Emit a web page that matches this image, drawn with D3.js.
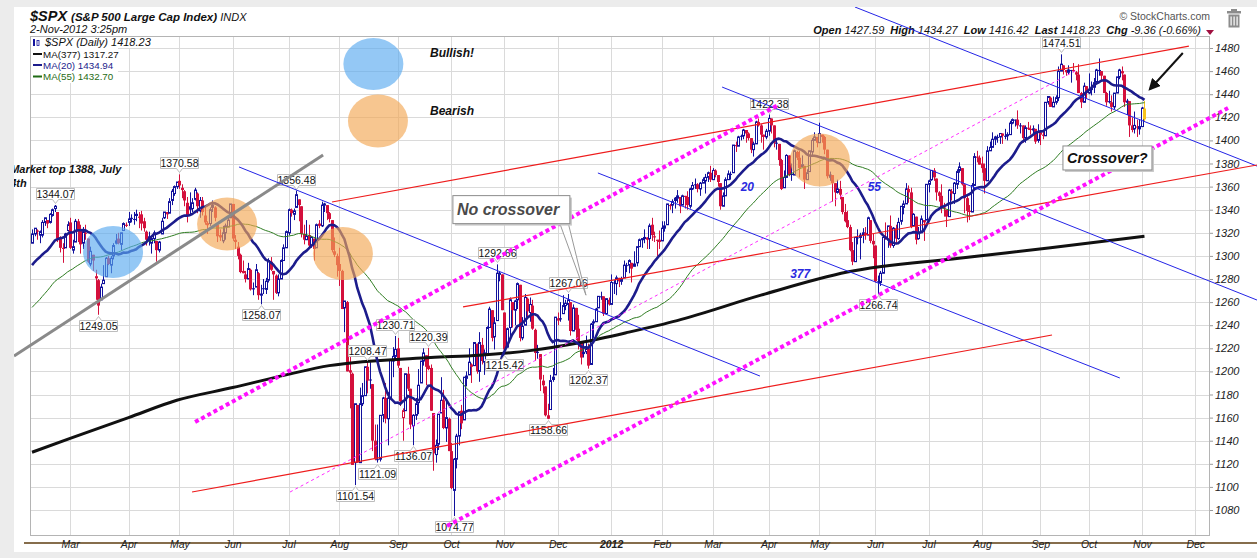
<!DOCTYPE html>
<html>
<head>
<meta charset="utf-8">
<script src="https://cdn.jsdelivr.net/npm/d3@7"></script>
<style>
html, body { margin: 0; padding: 0; background: #ececec; }
svg { display: block; font-family: "Liberation Sans", Arial, sans-serif; }
</style>
</head>
<body>
<script>
var W = 1257, H = 558;

// daily bars, 7-Feb-2011 .. 2-Nov-2012, one line per month
var opens = [
  1311,1319,1322,1318,1318,1329,1331,1329,1335,1341,1338,1315,1307,1307,1322,
  1329,1305,1312,1330,1323,1311,1320,1315,1293,1301,1281,1279,1262,1276,1282,1298,1292,1300,1311,1315,1310,1322,1327,
  1329,1333,1332,1335,1334,1336,1330,1321,1317,1311,1315,1313,1305,1319,1333,1338,1337,1348,1354,1360,
  1365,1359,1356,1346,1343,1341,1349,1354,1339,1348,1335,1327,1328,1342,1342,1327,1318,1313,1320,1325,1333,
  1345,1314,1308,1301,1287,1284,1280,1288,1272,1273,1285,1266,1272,1271,1279,1295,1287,1283,1268,1280,1296,1307,
  1320,1340,1336,1342,1349,1343,1319,1314,1318,1309,1315,1307,1328,1326,1344,1344,1337,1331,1304,1300,
  1293,1287,1255,1260,1201,1198,1121,1171,1121,1172,1179,1204,1193,1189,1140,1124,1124,1162,1177,1159,1177,1209,1213,
  1220,1203,1160,1166,1198,1185,1153,1162,1173,1190,1209,1214,1205,1203,1164,1128,1137,1164,1175,1151,1159,
  1131,1097,1124,1144,1166,1158,1194,1197,1206,1205,1224,1200,1223,1208,1215,1238,1253,1230,1244,1284,1284,
  1251,1221,1238,1260,1253,1262,1275,1229,1240,1263,1251,1257,1236,1217,1215,1192,1187,1162,1167,1193,1197,
  1246,1246,1250,1257,1258,1260,1235,1255,1237,1225,1217,1217,1220,1206,1242,1243,1255,1265,1265,1250,1262,
  1258,1277,1276,1281,1278,1281,1292,1292,1294,1291,1294,1308,1314,1315,1316,1315,1327,1317,1314,1314,
  1313,1324,1327,1344,1344,1348,1350,1351,1344,1352,1351,1343,1358,1362,1362,1358,1363,1365,1368,1372,
  1366,1374,1370,1363,1343,1352,1366,1371,1372,1396,1395,1404,1404,1409,1406,1402,1392,1397,1416,1413,1405,1403,
  1408,1419,1413,1398,1397,1383,1359,1368,1387,1371,1370,1390,1385,1377,1378,1366,1373,1390,1400,1403,
  1398,1405,1403,1392,1368,1370,1363,1355,1358,1351,1338,1331,1325,1305,1295,1316,1316,1318,1320,1318,1331,1313,
  1309,1278,1277,1285,1317,1314,1326,1309,1324,1315,1330,1342,1345,1358,1355,1326,1334,1315,1320,1331,1331,
  1362,1366,1374,1367,1355,1352,1342,1340,1334,1356,1354,1362,1374,1376,1362,1350,1339,1338,1361,1386,1385,
  1380,1376,1365,1391,1394,1401,1403,1403,1406,1404,1404,1405,1415,1418,1418,1413,1413,1402,1411,1410,1409,1410,1400,
  1407,1405,1404,1433,1437,1429,1433,1437,1460,1465,1461,1459,1461,1461,1459,1457,1441,1433,1447,
  1441,1444,1446,1451,1461,1460,1456,1441,1434,1433,1429,1441,1455,1460,1457,1433,1434,1413,1410,1412,1410,
  1412,1427.59
];
var highs = [
  1323,1324,1323,1322,1331,1333,1331,1337,1341,1344.07,1338,1317,1311,1320,1330,
  1333,1314,1332,1332,1327,1325,1327,1315,1308,1301,1288,1280,1276,1292,1299,1300,1300,1311,1319,1320,1320,1329,1329,
  1338,1336,1338,1340,1338,1339,1333,1322,1321,1316,1322,1313,1313,1333,1338,1338,1350,1358,1361,1364,
  1370.58,1362,1357,1351,1355,1350,1359,1355,1351,1351,1343,1330,1342,1348,1343,1328,1323,1326,1328,1334,1345,
  1345,1318,1312,1302,1296,1287,1294,1289,1277,1293,1286,1275,1280,1281,1298,1299,1287,1284,1284,1297,1310,1322,
  1341,1341,1341,1356.48,1349,1343,1327,1331,1327,1317,1315,1328,1331,1347,1346,1344,1338,1331,1316,1302,
  1307,1288,1261,1261,1218,1199,1172,1171,1186,1190,1204,1208.47,1208,1189,1154,1154,1162,1178,1190,1182,1210,1221,1230.71,
  1229,1203,1168,1198,1204,1185,1163,1177,1202,1209,1220,1214,1220.39,1206,1164,1141,1163,1195,1184,1175,1160,
  1138,1125,1146,1165,1171,1195,1200,1220,1207,1225,1224,1234,1229,1219,1239,1256,1253,1247,1292.66,1287,1284,
  1251,1238,1264,1260,1262,1277,1275,1247,1267,1264,1264,1262,1237,1223,1215,1197,1187,1172,1197,1203,1247,
  1251,1260,1266,1262,1267.06,1260,1258,1255,1249,1225,1225,1231,1224,1242,1245,1255,1265,1269,1265,1263,1264,
  1284,1279,1283,1281,1282,1296,1294,1297,1294,1304,1308,1315,1315,1323,1316,1328,1333,1321,1314,1322,
  1330,1330,1345,1345,1349,1351,1357,1351,1353,1352,1356,1359,1364,1367,1363,1364,1368,1371,1373,1378,
  1376,1375,1370,1363,1355,1368,1374,1373,1396,1399,1404,1405,1410,1409,1407,1402,1399,1417,1419,1414,1405,1410,
  1422.38,1419,1413,1401,1397,1384,1374,1388,1387,1380,1392,1391,1391,1387,1378,1375,1391,1402,1407,1403,
  1415.32,1405,1404,1392,1373,1370,1363,1366,1365,1351,1345,1339,1327,1312,1316,1323,1320,1324,1325,1334,1331,1319,
  1309,1283,1287,1316,1329,1326,1335,1325,1327,1333,1343,1348,1363,1361,1359,1337,1334,1325,1335,1331,1362,
  1366,1374,1376,1367,1356,1362,1346,1340,1358,1358,1364,1375,1381,1376,1362,1352,1344,1363,1389,1391,1387,
  1386,1380,1395,1399,1407,1404,1405,1406,1406,1410,1407,1417,1419,1418,1426,1415,1413,1413,1416,1413,1413,1410,1414,
  1409,1409,1433,1438,1438,1438,1439,1464,1474.51,1465,1461,1465,1461,1467,1460,1466,1442,1450,1447,
  1458,1451,1454,1462,1470.96,1460,1456,1442,1443,1439,1441,1455,1462,1464,1457,1436,1434,1420,1425,1418,1418,
  1429,1434.27
];
var lows = [
  1311,1317,1314,1311,1316,1326,1324,1328,1334,1338,1312,1303,1294,1307,1321,
  1306,1302,1312,1312,1302,1306,1314,1294,1291,1287,1262,1249.05,1262,1276,1282,1292,1285,1297,1310,1310,1305,1322,1325,
  1326,1329,1327,1330,1324,1322,1321,1309,1309,1302,1311,1295,1303,1319,1332,1332,1337,1344,1352,1358,
  1358,1350,1343,1329,1336,1338,1348,1337,1333,1335,1327,1319,1326,1338,1330,1312,1313,1311,1314,1325,1333,
  1313,1306,1297,1285,1285,1277,1280,1270,1266,1273,1262,1258.07,1267,1267,1277,1287,1262,1267,1265,1280,1296,1307,
  1318,1334,1331,1342,1330,1316,1310,1314,1306,1307,1296,1307,1324,1325,1338,1331,1329,1303,1299,1282,
  1274,1254,1234,1200,1168,1119,1101.54,1121,1121,1170,1179,1181,1185,1131,1123,1121.09,1122,1156,1155,1136,1177,1195,1209,
  1203,1170,1140,1166,1183,1150,1136.07,1158,1163,1190,1205,1188,1201,1166,1114,1121,1132,1164,1150,1139,1131,
  1098,1074.77,1116,1136,1150,1158,1187,1197,1190,1205,1198,1191,1206,1197,1215,1238,1226,1219,1244,1278,1253,
  1215.42,1221,1228,1238,1240,1254,1226,1227,1240,1246,1243,1236,1209,1211,1183,1181,1161,1158.66,1167,1191,1197,
  1240,1243,1250,1253,1244,1231,1235,1227,1219,1206,1212,1215,1202.37,1206,1229,1243,1255,1262,1248,1250,1257,
  1258,1267,1266,1273,1275,1281,1286,1285,1277,1291,1291,1308,1307,1311,1306,1306,1313,1312,1300,1306,
  1313,1321,1327,1340,1337,1341,1346,1337,1344,1341,1340,1341,1357,1358,1355,1352,1363,1354,1364,1364,
  1366,1368,1360,1340,1343,1352,1366,1366,1372,1390,1395,1400,1401,1398,1400,1389,1386,1397,1412,1398,1392,1401,
  1404,1406,1394,1392,1378,1357,1359,1368,1369,1365,1370,1383,1368,1377,1358,1366,1373,1387,1400,1394,
  1398,1398,1388,1367,1365,1347,1343,1354,1349,1336,1329,1324,1304,1292,1295,1310,1297,1311,1314,1318,1311,1298,
  1277,1266.74,1274,1285,1314,1307,1307,1307,1310,1314,1327,1336,1345,1346,1324,1326,1310,1314,1320,1313,1331,
  1355,1365,1365,1348,1347,1337,1334,1325,1334,1348,1345,1358,1372,1361,1337,1329,1331,1338,1361,1381,1379,
  1372,1354,1365,1391,1394,1396,1398,1397,1397,1401,1400,1405,1414,1412,1410,1406,1398,1398,1409,1405,1406,1397,1398,
  1396,1401,1404,1431,1429,1429,1431,1434,1460,1457,1456,1457,1450,1459,1452,1441,1428,1433,1436,
  1440,1439,1441,1450,1456,1452,1441,1430,1432,1425,1427,1441,1453,1452,1429,1422,1403,1407,1406,1403,1405,
  1412,1416.42
];
var closes = [
  1319,1324,1321,1321,1329,1333,1328,1336,1340,1343,1315,1307,1306,1319,1327,
  1307,1308,1330,1321,1310,1321,1320,1295,1304,1296,1282,1257,1273,1279,1298,1293,1298,1309,1313,1311,1320,1328,1326,
  1332,1332,1332,1336,1333,1328,1324,1314,1314,1315,1320,1305,1312,1330,1338,1336,1347,1356,1360,1364,
  1361,1357,1348,1335,1340,1346,1357,1343,1348,1338,1329,1328,1340,1344,1333,1317,1316,1320,1326,1331,1345,
  1315,1312,1300,1286,1285,1280,1289,1271,1271,1288,1266,1267,1272,1278,1296,1288,1284,1268,1280,1296,1307,1321,
  1340,1337,1339,1353,1344,1319,1314,1317,1309,1316,1306,1327,1326,1344,1345,1337,1332,1305,1301,1292,
  1287,1254,1261,1200,1199,1119,1172,1121,1172,1179,1204,1192,1193,1140,1124,1124,1162,1177,1159,1177,1210,1213,1219,
  1205,1174,1166,1198,1185,1154,1162,1172,1188,1209,1216,1204,1202,1166,1129,1136,1163,1175,1151,1160,1131,
  1099,1124,1144,1165,1155,1195,1196,1208,1204,1225,1200,1225,1209,1216,1238,1254,1229,1242,1285,1285,1253,
  1219,1237,1262,1253,1261,1276,1229,1239,1264,1252,1258,1237,1216,1216,1193,1188,1162,1159,1192,1195,1247,
  1244,1245,1257,1259,1262,1235,1255,1236,1226,1212,1215,1219,1205,1241,1243,1254,1265,1265,1250,1263,1258,
  1277,1277,1281,1278,1280,1292,1292,1296,1289,1293,1308,1314,1315,1316,1314,1326,1318,1316,1313,1312,
  1324,1326,1345,1344,1347,1350,1352,1343,1352,1351,1344,1358,1361,1362,1358,1363,1366,1368,1372,1366,
  1374,1370,1364,1343,1352,1366,1371,1371,1396,1395,1403,1404,1409,1406,1402,1392,1397,1416,1413,1405,1403,1408,
  1419,1413,1398,1398,1383,1358,1368,1387,1370,1370,1391,1385,1376,1379,1366,1372,1391,1400,1403,1398,
  1406,1403,1392,1369,1370,1363,1355,1358,1353,1338,1330,1325,1305,1295,1316,1316,1318,1320,1318,1333,1313,1310,
  1278,1278,1285,1316,1315,1326,1309,1324,1315,1329,1343,1345,1358,1355,1325,1336,1314,1320,1332,1329,1362,
  1365,1374,1368,1355,1352,1342,1341,1334,1357,1354,1363,1373,1377,1362,1350,1339,1338,1361,1386,1385,1379,
  1376,1365,1391,1394,1401,1403,1403,1406,1404,1404,1405,1415,1418,1418,1413,1413,1402,1411,1410,1409,1410,1399,1407,
  1405,1404,1433,1438,1429,1433,1437,1460,1466,1461,1459,1461,1461,1460,1457,1441,1433,1447,1441,
  1444,1445,1450,1461,1461,1456,1441,1433,1433,1429,1441,1455,1461,1458,1433,1434,1413,1409,1413,1412,1412,
  1428,1418.23
];

// 54 closes before the first bar (18-Nov-2010 .. 4-Feb-2011), only to seed the averages
var priorCloses = [
  1196,1199,1198,1181,1198,1189,1188,1181,
  1206,1221,1224,1223,1224,1229,1233,1240,1241,1243,1236,1243,1244,1247,1254,1258,1256,1257,1258,1259,1257,1258,
  1272,1270,1277,1274,1272,1270,1275,1286,1283,1293,1296,1282,1281,1283,1291,1292,1296,1300,1277,1286,
  1308,1304,1307,1311
];

// MA(377): bar index and value
var ma377Days = [0, 15, 38, 57, 79, 100, 117, 157, 176, 196, 216, 235, 254, 287, 321, 365, 401, 438];
var ma377Vals = [1130, 1142, 1160, 1175, 1186, 1197, 1205, 1212, 1214, 1218, 1225, 1234, 1244, 1266, 1286, 1298, 1307, 1317];

// month starts (bar index) and their labels
var monthIdx = [15, 38, 58, 79, 101, 121, 144, 165, 186, 207, 228, 248, 268, 290, 310, 332, 353, 374, 397, 416, 437, 458];
var monthLbl = ["Mar","Apr","May","Jun","Jul","Aug","Sep","Oct","Nov","Dec","2012","Feb","Mar","Apr","May","Jun","Jul","Aug","Sep","Oct","Nov","Dec"];
var yTicks = [1080,1100,1120,1140,1160,1180,1200,1220,1240,1260,1280,1300,1320,1340,1360,1380,1400,1420,1440,1460,1480];

// swing labels
var peakDays = [9, 26, 58, 90, 104, 127, 132, 136, 143, 150, 156, 166, 183, 186, 203, 211, 219, 290, 333, 405];
var peakVals = [1344.07,1249.05,1370.58,1258.07,1356.48,1101.54,1208.47,1121.09,1230.71,1136.07,1220.39,1074.77,1292.66,1215.42,1158.66,1267.06,1202.37,1422.38,1266.74,1474.51];
var peakSide = ["hi","lo","hi","lo","hi","lo","hi","lo","hi","lo","hi","lo","hi","lo","lo","hi","lo","hi","lo","hi"];

// hand drawn annotations, endpoints as [bar index, price]
var greyLine = [[-7.1, 1213.3], [114.6, 1387.4]];
var blueLines = [
  [[81.5, 1377], [286.6, 1196]],
  [[222.8, 1371.8], [428.3, 1194.3]],
  [[271.7, 1446.2], [482.3, 1261.8]],
  [[324, 1515.5], [482.3, 1377.8]]
];
var redLines = [
  [[118.1, 1346.7], [455.5, 1481.7]],
  [[169.7, 1255.8], [482.3, 1378.7]],
  [[63, 1095.6], [401.6, 1231.5]]
];
var dotLines = [
  [[64.2, 1156.2], [293.7, 1430.6]],
  [[163.4, 1066.2], [470.9, 1428]]
];
var dashLine = [[101.6, 1095.6], [411.4, 1461]];
var arrowLine = [[453.1, 1475.7], [440.2, 1444.5]];
var blueSpots = [[31.9, 1303.4], [134.4, 1466.1]];
var orangeSpots = [[76.8, 1327.6], [122.4, 1302.1], [310.2, 1383], [136.2, 1416.8]];

var BLUE = "#11119c", RED = "#d4103c";

var svg = d3.select("body").append("svg").attr("width", W).attr("height", H);
svg.append("rect").attr("width", W).attr("height", H).attr("fill", "#ececec");
svg.append("rect").attr("x", 14).attr("y", 7).attr("width", W - 14).attr("height", 545).attr("fill", "#fff");

var defs = svg.append("defs");
defs.append("clipPath").attr("id", "plotClip").append("rect")
  .attr("x", 30).attr("y", 36).attr("width", 1180).attr("height", 500);
defs.append("clipPath").attr("id", "panelClip").append("rect")
  .attr("x", 14).attr("y", 7).attr("width", W - 14).attr("height", 545);
defs.append("marker").attr("id", "arrow").attr("viewBox", "0 -5 10 10")
  .attr("refX", 8).attr("refY", 0).attr("markerWidth", 6).attr("markerHeight", 6)
  .attr("orient", "auto")
  .append("path").attr("d", "M0,-5L10,0L0,5Z").attr("fill", "#111");

var x = d3.scaleLinear().domain([-0.8, 463.8]).range([30, 1210]);
var y = d3.scaleLinear().domain([1057.5, 1490.4]).range([536, 36]);

// header
var head = svg.append("g").attr("fill", "#111");
var t1 = head.append("text").attr("x", 30).attr("y", 21);
t1.append("tspan").attr("font-size", 14.5).attr("font-weight", "bold").attr("font-style", "italic").text("$SPX ");
t1.append("tspan").attr("font-size", 11.5).attr("font-weight", "bold").attr("font-style", "italic").text("(S&P 500 Large Cap Index) ");
t1.append("tspan").attr("font-size", 11).attr("font-style", "italic").text("INDX");
head.append("text").attr("x", 30).attr("y", 33).attr("font-size", 11).attr("font-style", "italic").text("2-Nov-2012 3:25pm");
head.append("text").attr("x", 1210).attr("y", 20).attr("text-anchor", "end").attr("font-size", 10.5)
  .attr("fill", "#555").text("\u00a9 StockCharts.com");
var quote = head.append("text").attr("x", 1201).attr("y", 34).attr("text-anchor", "end").attr("font-size", 11).attr("font-style", "italic");
[["Open", "1427.59"], ["High", "1434.27"], ["Low", "1416.42"], ["Last", "1418.23"], ["Chg", "-9.36 (-0.66%)"]].forEach(function(p, k) {
  quote.append("tspan").attr("font-weight", "bold").text((k ? "\u00a0\u00a0" : "") + p[0] + " ");
  quote.append("tspan").text(p[1]);
});
head.append("path").attr("d", "M1206,30L1214,30L1210,35Z").attr("fill", "#a01040");
// trash can
var tr = svg.append("g").attr("fill", "#8c8c8c");
tr.append("rect").attr("x", 1227).attr("y", 11).attr("width", 14).attr("height", 2.5);
tr.append("rect").attr("x", 1231).attr("y", 9).attr("width", 6).attr("height", 2);
tr.append("rect").attr("x", 1228.5).attr("y", 14.5).attr("width", 11).attr("height", 13);
tr.selectAll(".slot").data([0, 1, 2]).enter().append("rect")
  .attr("x", function(d) { return 1230.5 + d * 3; }).attr("y", 16.5).attr("width", 1.2).attr("height", 9).attr("fill", "#fff");

// grid
var grid = svg.append("g").attr("stroke", "#dadada").attr("stroke-width", 1);
grid.selectAll(".gy").data(yTicks).enter().append("line")
  .attr("x1", 30).attr("x2", 1210)
  .attr("y1", function(d) { return Math.round(y(d)) + 0.5; })
  .attr("y2", function(d) { return Math.round(y(d)) + 0.5; });
grid.selectAll(".gx").data(monthIdx).enter().append("line")
  .attr("y1", 36).attr("y2", 536)
  .attr("x1", function(d) { return Math.round(x(d)) + 0.5; })
  .attr("x2", function(d) { return Math.round(x(d)) + 0.5; });
svg.append("rect").attr("x", 30.5).attr("y", 36.5).attr("width", 1179).attr("height", 499)
  .attr("fill", "none").attr("stroke", "#b4b4b4");

// y axis
var yAxis = svg.append("g").attr("transform", "translate(1210,0)")
  .call(d3.axisRight(y).tickValues(yTicks).tickSize(3).tickPadding(2).tickFormat(d3.format("d")));
yAxis.select(".domain").remove();
yAxis.selectAll("line").attr("stroke", "#999");
yAxis.selectAll("text").attr("font-family", "Liberation Sans, Arial, sans-serif")
  .attr("font-size", 11).attr("font-style", "italic").attr("fill", "#222");

// x axis
svg.append("line").attr("x1", 24).attr("x2", W).attr("y1", 543).attr("y2", 543)
  .attr("stroke", "#5e3c10").attr("stroke-width", 1.5);
var xAxis = svg.append("g").attr("transform", "translate(0,536)")
  .call(d3.axisBottom(x).tickValues(monthIdx).tickSize(0).tickPadding(5)
    .tickFormat(function(d, i) { return monthLbl[i]; }));
xAxis.select(".domain").remove();
xAxis.selectAll("text").attr("font-family", "Liberation Sans, Arial, sans-serif")
  .attr("font-size", 10.5).attr("font-style", "italic").attr("fill", "#222")
  .attr("font-weight", function(d, i) { return monthLbl[i] === "2012" ? "bold" : null; });

// candles
var days = closes.map(function(c, i) {
  return { i: i, o: opens[i], h: highs[i], l: lows[i], c: c,
           pc: i ? closes[i - 1] : priorCloses[priorCloses.length - 1] };
});
function col(d) {
  if (d.i === closes.length - 1) return "#f7c21e";
  return d.c >= d.pc ? BLUE : RED;
}
function px(i) { return Math.round(x(i)); }
var plot = svg.append("g").attr("clip-path", "url(#plotClip)");
plot.selectAll(".wick").data(days).enter().append("line")
  .attr("x1", function(d) { return px(d.i) + 0.5; })
  .attr("x2", function(d) { return px(d.i) + 0.5; })
  .attr("y1", function(d) { return y(d.h); })
  .attr("y2", function(d) { return y(d.l); })
  .attr("stroke", col).attr("stroke-width", 1);
plot.selectAll(".body").data(days).enter().append("rect")
  .attr("x", function(d) { return d.c > d.o ? px(d.i) - 0.5 : px(d.i) - 1; })
  .attr("width", function(d) { return d.c > d.o ? 2 : 3; })
  .attr("y", function(d) { return y(Math.max(d.o, d.c)); })
  .attr("height", function(d) { return Math.max(1, Math.abs(y(d.o) - y(d.c))); })
  .attr("fill", function(d) { return d.c > d.o ? "#fff" : col(d); })
  .attr("stroke", function(d) { return d.c > d.o ? col(d) : "none"; })
  .attr("stroke-width", 1);

// moving averages
var allCloses = priorCloses.concat(closes);
function sma(n) {
  return closes.map(function(c, i) {
    var end = i + priorCloses.length;
    return d3.mean(allCloses.slice(end - n + 1, end + 1));
  });
}
var maLine = d3.line().x(function(d, i) { return x(i); }).y(function(d) { return y(d); });
var ma377 = ma377Days.map(function(d, k) { return [d, ma377Vals[k]]; });
plot.append("path").datum(ma377)
  .attr("d", d3.line().x(function(d) { return x(d[0]); }).y(function(d) { return y(d[1]); }).curve(d3.curveMonotoneX))
  .attr("fill", "none").attr("stroke", "#111").attr("stroke-width", 3);
plot.append("path").datum(sma(55)).attr("d", maLine)
  .attr("fill", "none").attr("stroke", "#2f7d22").attr("stroke-width", 1);
plot.append("path").datum(sma(20)).attr("d", maLine)
  .attr("fill", "none").attr("stroke", "#1c1c8c").attr("stroke-width", 2.6);

// legend
var leg = svg.append("g");
leg.append("rect").attr("x", 31).attr("y", 37).attr("width", 125).attr("height", 11).attr("fill", "#fff");
leg.append("rect").attr("x", 31).attr("y", 48).attr("width", 87).attr("height", 35).attr("fill", "#fff");
leg.append("rect").attr("x", 33).attr("y", 39).attr("width", 2).attr("height", 7).attr("fill", BLUE);
leg.append("rect").attr("x", 37).attr("y", 40.5).attr("width", 2).attr("height", 5).attr("fill", "none").attr("stroke", BLUE).attr("stroke-width", 0.8);
leg.append("text").attr("x", 45).attr("y", 46).attr("font-size", 11).attr("font-style", "italic").attr("fill", "#111")
  .text("$SPX (Daily) 1418.23");
[["MA(377) 1317.27", "#111", 57.5], ["MA(20) 1434.94", "#1c1c8c", 68.5], ["MA(55) 1432.70", "#1f6b14", 80]].forEach(function(r) {
  leg.append("rect").attr("x", 33).attr("y", r[2] - 4.5).attr("width", 9).attr("height", 2).attr("fill", r[1]);
  leg.append("text").attr("x", 43).attr("y", r[2]).attr("font-size", 9.8).attr("fill", r[1]).text(r[0]);
});

// swing labels
var lab = svg.append("g");
peakDays.forEach(function(d, k) {
  var cx = px(d) + 0.5, vy = y(peakVals[k]), w = 38, h = 11;
  var left = cx - w / 2, right = cx + w / 2, top, path;
  if (peakSide[k] === "hi") {
    top = Math.round(vy) - 5.5 - h;
    path = "M" + left + "," + top + "H" + right + "V" + (top + h) + "H" + (cx + 3) +
      "L" + cx + "," + (top + h + 4) + "L" + (cx - 3) + "," + (top + h) + "H" + left + "Z";
  } else {
    top = Math.round(vy) + 5.5;
    path = "M" + left + "," + top + "H" + (cx - 3) + "L" + cx + "," + (top - 4) + "L" + (cx + 3) + "," + top +
      "H" + right + "V" + (top + h) + "H" + left + "Z";
  }
  lab.append("path").attr("d", path).attr("fill", "#fff").attr("stroke", "#bdbdbd").attr("stroke-width", 1);
  lab.append("text").attr("x", cx).attr("y", top + 9.2).attr("text-anchor", "middle")
    .attr("font-size", 10.5).attr("fill", "#111").text(peakVals[k].toFixed(2));
});

// annotations
var ann = svg.append("g").attr("clip-path", "url(#panelClip)");
function seg(s, stroke, w, dash) {
  return ann.append("line")
    .attr("x1", x(s[0][0])).attr("y1", y(s[0][1]))
    .attr("x2", x(s[1][0])).attr("y2", y(s[1][1]))
    .attr("stroke", stroke).attr("stroke-width", w)
    .attr("stroke-dasharray", dash || null);
}
blueSpots.forEach(function(p) {
  ann.append("ellipse").attr("cx", x(p[0])).attr("cy", y(p[1])).attr("rx", 30).attr("ry", 26)
    .attr("fill", "#5aaaf0").attr("fill-opacity", 0.65);
});
orangeSpots.forEach(function(p) {
  ann.append("ellipse").attr("cx", x(p[0])).attr("cy", y(p[1])).attr("rx", 30).attr("ry", 26.5)
    .attr("fill", "#f3a855").attr("fill-opacity", 0.65);
});
seg(greyLine, "#8a8a8a", 3);
blueLines.forEach(function(s) { seg(s, "#2424e6", 1); });
redLines.forEach(function(s) { seg(s, "#ee1c1c", 1.2); });
seg(dashLine, "#ff2bff", 1, "3,3");
dotLines.forEach(function(s) { seg(s, "#ff10ff", 4, "4,3"); });
seg(arrowLine, "#111", 2).attr("marker-end", "url(#arrow)");

function note(txt, at, size, fill) {
  return ann.append("text").attr("x", x(at[0])).attr("y", y(at[1]))
    .attr("font-size", size).attr("font-weight", "bold").attr("font-style", "italic")
    .attr("fill", fill).text(txt);
}
note("Bullish!", [156.7, 1472], 12, "#111");
note("Bearish", [156.7, 1422], 12, "#111");
note("Market top 1388, July", [-8.6, 1372], 11, "#111");
note("4th", [-8.6, 1360], 11, "#111");
note("20", [279, 1356], 12, "#2a2ae0");
note("55", [329, 1356], 12, "#2a2ae0");
note("377", [298.5, 1281], 12, "#2a2ae0");

function callout(txt, at, w, h, size, fill, tip) {
  var bx = x(at[0]), by = y(at[1]);
  if (tip) {
    ann.append("path")
      .attr("d", "M" + (bx + w - 10) + "," + (by + h) + "L" + x(tip[0]) + "," + y(tip[1]) + "L" + (bx + w - 2) + "," + (by + h - 2))
      .attr("fill", "#fff").attr("stroke", "#9a9a9a").attr("stroke-width", 1);
  }
  ann.append("rect").attr("x", bx + 2).attr("y", by + 2).attr("width", w).attr("height", h).attr("fill", "#c8c8c8");
  ann.append("rect").attr("x", bx).attr("y", by).attr("width", w).attr("height", h)
    .attr("fill", "#fff").attr("stroke", "#8c8c8c").attr("stroke-width", 1);
  ann.append("text").attr("x", bx + 4).attr("y", by + h / 2 + size * 0.36)
    .attr("font-size", size).attr("font-weight", "bold").attr("font-style", "italic")
    .attr("fill", fill).text(txt);
}
callout("No crossover", [165.7, 1352.2], 117, 28, 16, "#4a4a4a", [218.1, 1266]);
callout("Crossover?", [405.9, 1395.2], 89, 24, 14.5, "#111");
</script>
</body>
</html>
